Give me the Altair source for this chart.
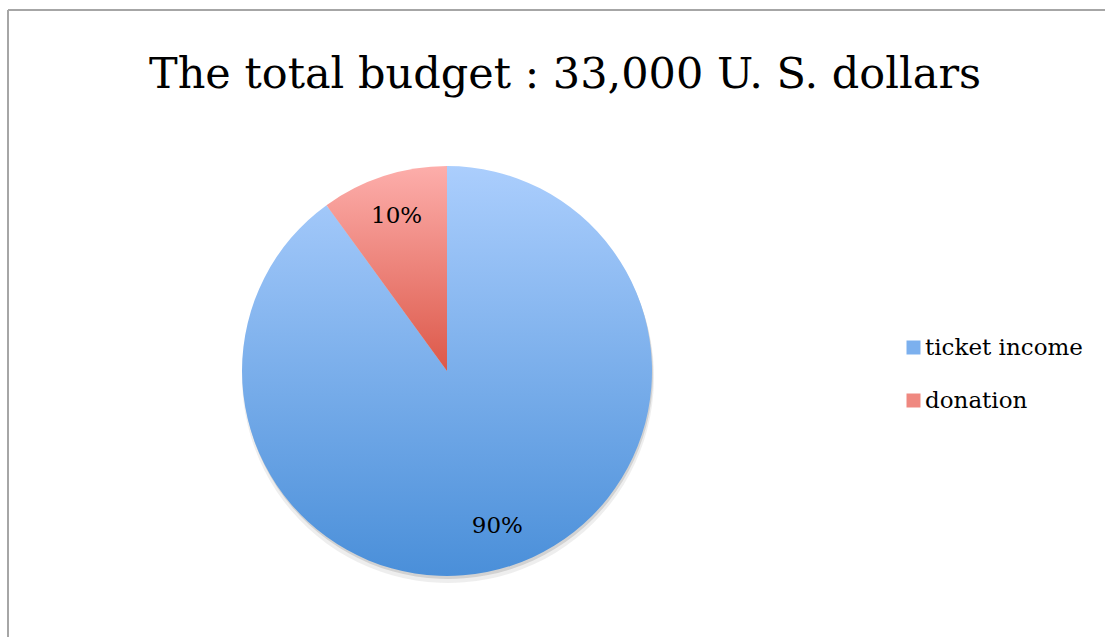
import altair as alt
import pandas as pd

categories = ["ticket income", "donation"]
shares = [90, 10]
labels = ["90%", "10%"]
order = [1, 2]
title_text = ["The total budget : 33,000 U. S. dollars"]

df = pd.DataFrame({"category": categories, "share": shares, "label": labels, "ord": order})

SERIF = "DejaVu Serif"
CX, CY, R = 447, 371, 205

blue_grad = alt.Gradient(
    gradient="linear", x1=0, x2=0, y1=0, y2=1,
    stops=[alt.GradientStop(color="#abcefd", offset=0),
           alt.GradientStop(color="#4a8fd9", offset=1)])
red_grad = alt.Gradient(
    gradient="linear", x1=0, x2=0, y1=0, y2=1,
    stops=[alt.GradientStop(color="#fdaeab", offset=0),
           alt.GradientStop(color="#dc5849", offset=1)])

base = alt.Chart(df)
theta = alt.Theta("share:Q", stack=True)
ordr = alt.Order("ord:Q")

shadow1 = base.mark_arc(radius=R + 1, opacity=0.10, fill="#555555").encode(
    theta=theta, order=ordr, x=alt.value(CX + 1), y=alt.value(CY + 6))
shadow2 = base.mark_arc(radius=R, opacity=0.18, fill="#555555").encode(
    theta=theta, order=ordr, x=alt.value(CX + 1), y=alt.value(CY + 3))

pie = base.mark_arc(radius=R).encode(
    theta=theta,
    order=ordr,
    x=alt.value(CX), y=alt.value(CY),
    fill=alt.condition(alt.datum.category == "donation", alt.value(red_grad), alt.value(blue_grad)),
)

legend_layer = base.mark_square(size=0, opacity=1).encode(
    x=alt.value(CX), y=alt.value(CY),
    color=alt.Color("category:N",
                    scale=alt.Scale(domain=categories, range=["#7cb0ee", "#ef8880"]),
                    legend=alt.Legend(title=None, orient="none", legendX=902, legendY=336,
                                      symbolType="square", symbolSize=196,
                                      symbolStrokeWidth=0, symbolOpacity=1,
                                      labelFont=SERIF, labelFontSize=23, labelLimit=400,
                                      labelColor="#000000", rowPadding=29,
                                      labelOffset=0)),
)

text = base.mark_text(radius=163, font=SERIF, fontSize=23, color="#000000").encode(
    theta=theta, order=ordr, x=alt.value(CX), y=alt.value(CY), text="label:N")

title = alt.Chart(pd.DataFrame({"t": title_text})).mark_text(
    font=SERIF, fontSize=43, color="#000000", baseline="alphabetic").encode(
    x=alt.value(565), y=alt.value(88), text="t:N")

border = alt.Chart(pd.DataFrame({"k": [0]}))
top_line = border.mark_rule(color="#a6a6a6", strokeWidth=2).encode(
    x=alt.value(8), x2=alt.value(1105), y=alt.value(10))
left_line = border.mark_rule(color="#a6a6a6", strokeWidth=2).encode(
    x=alt.value(8), y=alt.value(10), y2=alt.value(637))

chart = alt.layer(shadow1, shadow2, pie, legend_layer, text, title, top_line, left_line).properties(
    width=1105, height=637, padding=0, autosize=alt.AutoSizeParams(type="none"),
    background="#ffffff"
).configure_view(stroke=None)

chart.save("out.html", embed_options={"renderer": "svg", "actions": False})
